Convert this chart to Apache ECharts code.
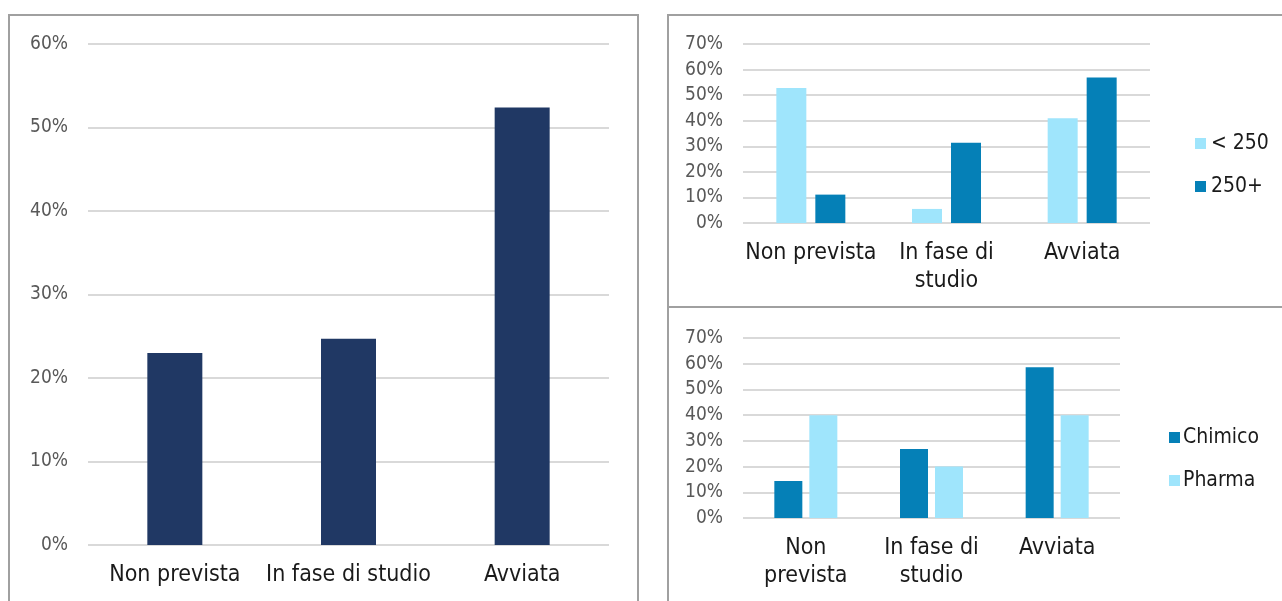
<!DOCTYPE html>
<html>
<head>
<meta charset="utf-8">
<script src="https://cdn.jsdelivr.net/npm/echarts@6/dist/echarts.min.js"></script>
<style>
html, body { margin: 0; padding: 0; background: #fff; }
#main { width: 1282px; height: 601px; }
</style>
</head>
<body>
<div id="main"></div>
<script>
// categorie
var categories = ['Non prevista', 'In fase di studio', 'Avviata'];
var categoriesTop = ['Non prevista', 'In fase di\nstudio', 'Avviata'];
var categoriesBottom = ['Non\nprevista', 'In fase di\nstudio', 'Avviata'];

// totale
var totale = [23.0, 24.7, 52.4];
// dimensione impresa
var small = [52.8, 5.5, 41.0];
var large = [11.1, 31.4, 56.9];
// settore
var chimico = [14.4, 26.8, 58.6];
var pharma = [40.0, 20.0, 40.0];

var navy = '#203864';
var lightBlue = '#9fe5fc';
var darkBlue = '#0580b7';
var gridColor = '#d9d9d9';
var font = '"DejaVu Sans Condensed", "DejaVu Sans", sans-serif';

var myChart = echarts.init(document.getElementById('main'));

function yAxis(idx, max, size) {
    return {
        type: 'value', gridIndex: idx, min: 0, max: max, interval: 10,
        axisLine: { show: false }, axisTick: { show: false },
        axisLabel: { formatter: '{value}%', color: '#595959', fontSize: size, fontFamily: font, margin: 20 },
        splitLine: { lineStyle: { color: gridColor, width: 2 } }
    };
}
function xAxis(idx, data) {
    return {
        type: 'category', gridIndex: idx, data: data,
        axisLine: { show: false }, axisTick: { show: false },
        axisLabel: { color: '#1a1a1a', fontSize: 23, fontFamily: font, margin: 16, lineHeight: 28, interval: 0 }
    };
}

var option = {
    animation: false,
    graphic: [
        { type: 'rect', shape: { x: 9, y: 15, width: 629, height: 600 }, style: { fill: 'none', stroke: '#a0a0a0', lineWidth: 2 } },
        { type: 'rect', shape: { x: 668, y: 15, width: 620, height: 292 }, style: { fill: 'none', stroke: '#a0a0a0', lineWidth: 2 } },
        { type: 'rect', shape: { x: 668, y: 307, width: 620, height: 300 }, style: { fill: 'none', stroke: '#a0a0a0', lineWidth: 2 } }
    ],
    grid: [
        { left: 88, top: 44, width: 521, height: 501 },
        { left: 743, top: 44, width: 407, height: 179 },
        { left: 743, top: 338, width: 377, height: 180 }
    ],
    legend: [
        {
            orient: 'vertical', left: 1190, top: 128, itemWidth: 11, itemHeight: 11, itemGap: 22,
            icon: 'rect', data: ['< 250', '250+'],
            textStyle: { color: '#1a1a1a', fontSize: 21, fontFamily: font, padding: [0, 0, 0, 0] }
        },
        {
            orient: 'vertical', left: 1164, top: 422, itemWidth: 11, itemHeight: 11, itemGap: 22,
            icon: 'rect', data: ['Chimico', 'Pharma'],
            textStyle: { color: '#1a1a1a', fontSize: 21, fontFamily: font, padding: [0, 0, 0, -2] }
        }
    ],
    xAxis: [xAxis(0, categories), xAxis(1, categoriesTop), xAxis(2, categoriesBottom)],
    yAxis: [yAxis(0, 60, 19), yAxis(1, 70, 19), yAxis(2, 70, 19)],
    series: [
        { name: 'Totale', type: 'bar', xAxisIndex: 0, yAxisIndex: 0, barWidth: 55, data: totale, itemStyle: { color: navy } },
        { name: '< 250', type: 'bar', xAxisIndex: 1, yAxisIndex: 1, barWidth: 30, barGap: '30%', data: small, itemStyle: { color: lightBlue } },
        { name: '250+', type: 'bar', xAxisIndex: 1, yAxisIndex: 1, barWidth: 30, barGap: '30%', data: large, itemStyle: { color: darkBlue } },
        { name: 'Chimico', type: 'bar', xAxisIndex: 2, yAxisIndex: 2, barWidth: 28, barGap: '25%', data: chimico, itemStyle: { color: darkBlue } },
        { name: 'Pharma', type: 'bar', xAxisIndex: 2, yAxisIndex: 2, barWidth: 28, barGap: '25%', data: pharma, itemStyle: { color: lightBlue } }
    ]
};
myChart.setOption(option);
window.addEventListener('resize', function () { myChart.resize(); });
</script>
</body>
</html>
